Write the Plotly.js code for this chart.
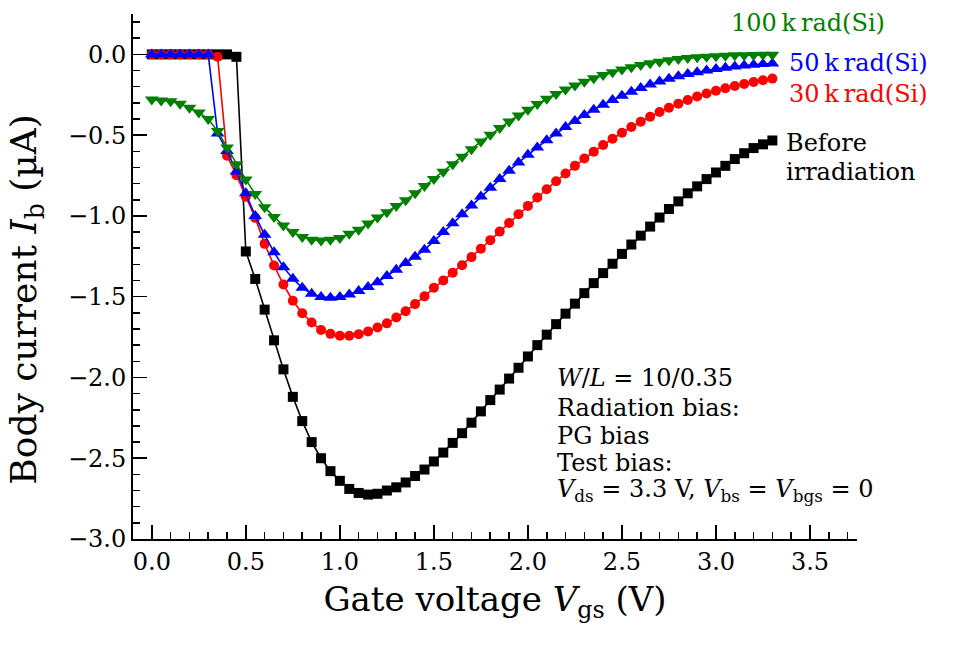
<!DOCTYPE html>
<html>
<head>
<meta charset="utf-8">
<script src="https://cdn.plot.ly/plotly-3.0.1.min.js"></script>
<style>html,body{margin:0;padding:0;background:#fff;}#chart{width:963px;height:655px;}</style>
</head>
<body>
<div id="chart"></div>
<script>
// Gate voltage (V), 0.05 V steps
const vgs = [0.00,0.05,0.10,0.15,0.20,0.25,0.30,0.35,0.40,0.45,0.50,0.55,0.60,0.65,0.70,0.75,0.80,0.85,0.90,0.95,
  1.00,1.05,1.10,1.15,1.20,1.25,1.30,1.35,1.40,1.45,1.50,1.55,1.60,1.65,1.70,1.75,1.80,1.85,1.90,1.95,
  2.00,2.05,2.10,2.15,2.20,2.25,2.30,2.35,2.40,2.45,2.50,2.55,2.60,2.65,2.70,2.75,2.80,2.85,2.90,2.95,
  3.00,3.05,3.10,3.15,3.20,3.25,3.30];

// Body current (uA)
const before = [0,0,0,0,0,0,0,0,0,-0.015,-1.22,-1.39,-1.58,-1.77,-1.95,-2.12,-2.27,-2.40,-2.50,-2.58,
  -2.64,-2.69,-2.715,-2.725,-2.72,-2.70,-2.68,-2.65,-2.61,-2.57,-2.52,-2.465,-2.405,-2.345,-2.28,-2.21,-2.14,-2.075,-2.007,-1.94,
  -1.87,-1.80,-1.735,-1.67,-1.605,-1.543,-1.478,-1.416,-1.354,-1.296,-1.235,-1.177,-1.122,-1.066,-1.01,-0.957,-0.91,-0.86,-0.817,-0.772,
  -0.731,-0.69,-0.648,-0.612,-0.58,-0.557,-0.533];

const k30 = [0,0,0,0,0,0,0,-0.015,-0.628,-0.748,-0.881,-1.012,-1.173,-1.307,-1.425,-1.525,-1.603,-1.66,-1.706,-1.73,
  -1.742,-1.742,-1.732,-1.716,-1.691,-1.665,-1.629,-1.59,-1.546,-1.498,-1.445,-1.40,-1.352,-1.305,-1.255,-1.203,-1.15,-1.097,-1.044,-0.99,
  -0.938,-0.886,-0.835,-0.785,-0.737,-0.69,-0.645,-0.602,-0.561,-0.522,-0.485,-0.45,-0.417,-0.386,-0.357,-0.33,-0.305,-0.282,-0.261,-0.242,
  -0.225,-0.21,-0.196,-0.183,-0.171,-0.16,-0.15];

const k50 = [0,0,0,0,0,0,0,-0.49,-0.598,-0.725,-0.86,-1.0,-1.117,-1.225,-1.317,-1.389,-1.445,-1.482,-1.502,-1.506,
  -1.502,-1.486,-1.465,-1.44,-1.41,-1.372,-1.333,-1.292,-1.252,-1.21,-1.155,-1.10,-1.045,-0.99,-0.935,-0.88,-0.825,-0.772,-0.72,-0.67,
  -0.622,-0.576,-0.532,-0.49,-0.45,-0.412,-0.376,-0.343,-0.312,-0.283,-0.256,-0.231,-0.208,-0.187,-0.168,-0.151,-0.136,-0.122,-0.11,-0.099,
  -0.09,-0.082,-0.075,-0.069,-0.064,-0.06,-0.057];

const k100 = [-0.28,-0.285,-0.29,-0.305,-0.33,-0.36,-0.40,-0.475,-0.576,-0.68,-0.775,-0.865,-0.947,-1.006,-1.06,-1.10,-1.13,-1.148,-1.152,-1.148,
  -1.136,-1.11,-1.086,-1.047,-1.01,-0.978,-0.938,-0.903,-0.86,-0.815,-0.772,-0.727,-0.68,-0.633,-0.587,-0.54,-0.497,-0.455,-0.415,-0.378,
  -0.342,-0.307,-0.275,-0.245,-0.218,-0.193,-0.169,-0.147,-0.128,-0.11,-0.094,-0.079,-0.066,-0.055,-0.045,-0.036,-0.029,-0.023,-0.018,-0.014,
  -0.011,-0.008,-0.006,-0.005,-0.004,-0.003,-0.002];

const xTicks = [0.0,0.5,1.0,1.5,2.0,2.5,3.0,3.5];
const yTicks = [0.0,-0.5,-1.0,-1.5,-2.0,-2.5,-3.0];

const FONT = 'DejaVu Serif, serif';

function series(y, color, symbol, size) {
  return {x: vgs, y: y, type: 'scatter', mode: 'lines+markers',
    line: {color: color, width: 1.6},
    marker: {color: color, symbol: symbol, size: size, line: {width: 0}},
    showlegend: false, hoverinfo: 'skip'};
}

const traces = [
  series(before, '#000000', 'square', 10),
  series(k30, '#ff0000', 'circle', 10),
  series(k50, '#0000ff', 'triangle-up', 12),
  series(k100, '#008000', 'triangle-down', 12)
];

const ann = [];
function txt(x, y, text, color, xanchor) {
  ann.push({x: x, y: y, xref: 'x', yref: 'y', text: text, showarrow: false,
    xanchor: xanchor, yanchor: 'middle', align: 'left',
    font: {family: FONT, size: 24, color: color}});
}
txt(3.49, 0.193, '100\u2009k\u2009rad(Si)', '#008000', 'center');
txt(3.38, -0.054, '50\u2009k\u2009rad(Si)', '#0000ff', 'left');
txt(3.38, -0.246, '30\u2009k\u2009rad(Si)', '#ff0000', 'left');
txt(3.36, -0.548, 'Before', '#000000', 'left');
txt(3.36, -0.727, 'irradiation', '#000000', 'left');
txt(2.145, -2.005, '<i>W</i>/<i>L</i> = 10/0.35', '#000000', 'left');
txt(2.145, -2.19, 'Radiation bias:', '#000000', 'left');
txt(2.145, -2.36, 'PG bias', '#000000', 'left');
txt(2.145, -2.53, 'Test bias:', '#000000', 'left');
txt(2.145, -2.70, '<i>V</i><sub>ds</sub> = 3.3 V, <i>V</i><sub>bs</sub> = <i>V</i><sub>bgs</sub> = 0', '#000000', 'left');

// y-axis title placed as a rotated annotation
ann.push({xref: 'paper', yref: 'paper', x: -0.147, y: 0.455, xanchor: 'center', yanchor: 'middle',
  text: 'Body current <i>I</i><sub>b</sub> (\u00b5A)', textangle: -90, showarrow: false,
  font: {family: FONT, size: 36, color: '#000'}});

const layout = {
  width: 963, height: 655,
  margin: {l: 133, r: 106, t: 14, b: 116},
  paper_bgcolor: '#ffffff', plot_bgcolor: '#ffffff',
  font: {family: FONT, color: '#000000'},
  xaxis: {
    range: [-0.1, 3.75], showgrid: false, zeroline: false,
    showline: true, linecolor: '#000', linewidth: 2, mirror: false,
    ticks: 'inside', ticklen: 14, tickwidth: 1.6, tickcolor: '#000',
    tickvals: xTicks, ticktext: xTicks.map(v => v.toFixed(1)),
    minor: {dtick: 0.1, tick0: 0, ticks: 'inside', ticklen: 7, tickwidth: 1.6, tickcolor: '#000'},
    tickfont: {family: FONT, size: 24, color: '#000'},
    title: {text: 'Gate voltage <i>V</i><sub>gs</sub> (V)', font: {family: FONT, size: 34, color: '#000'}, standoff: 12}
  },
  yaxis: {
    range: [-3.0, 0.25], showgrid: false, zeroline: false,
    showline: true, linecolor: '#000', linewidth: 2, mirror: false,
    ticks: 'inside', ticklen: 14, tickwidth: 1.6, tickcolor: '#000',
    tickvals: yTicks, ticktext: yTicks.map(v => (v < 0 ? '\u2212' + Math.abs(v).toFixed(1) : v.toFixed(1))),
    minor: {dtick: 0.1, tick0: 0, ticks: 'inside', ticklen: 7, tickwidth: 1.6, tickcolor: '#000'},
    tickfont: {family: FONT, size: 24, color: '#000'}
  },
  annotations: ann
};

Plotly.newPlot('chart', traces, layout, {staticPlot: true, displayModeBar: false});
</script>
</body>
</html>
